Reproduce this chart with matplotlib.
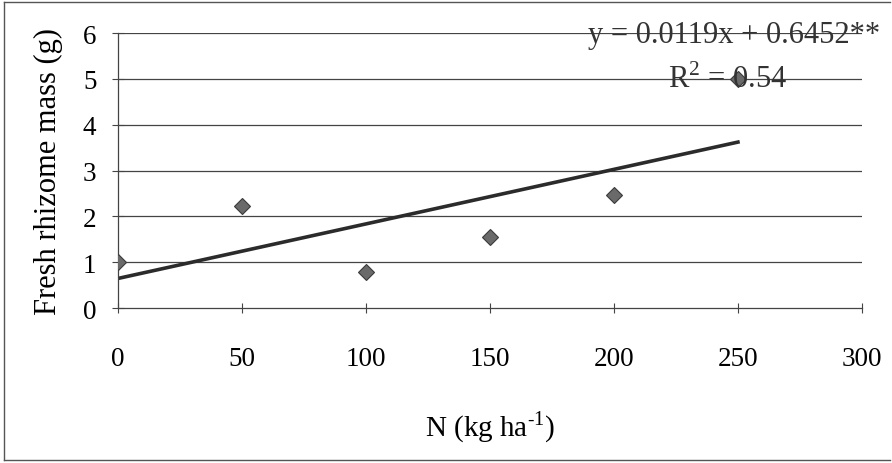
"""
Fresh rhizome mass vs N rate, with linear trendline
"""

import numpy as np
import matplotlib.pyplot as plt
from matplotlib.lines import Line2D

# Data
n_rate = [0, 50, 100, 150, 200, 250]
rhizome_mass = [1.0, 2.22, 0.78, 1.54, 2.46, 5.0]

# Trendline as reported on the chart
slope = 0.0119
intercept = 0.6452
r_squared = 0.54

x_ticks = [0, 50, 100, 150, 200, 250, 300]
y_ticks = [0, 1, 2, 3, 4, 5, 6]

plt.rcParams['font.family'] = ['Liberation Serif', 'DejaVu Serif']

fig = plt.figure(figsize=(8.92, 4.64), dpi=100)
ax = fig.add_axes([0.1323, 0.334, 0.834, 0.5927])

# Horizontal grid lines
for yv in y_ticks[1:]:
    ax.axhline(yv, color='#444444', linewidth=0.9, zorder=1)

# Trendline over the data range
line_x = np.array([n_rate[0], n_rate[-1]])
ax.plot(line_x, slope * line_x + intercept, color='#2b2b2b', linewidth=2.6, zorder=2)

# Points
ax.plot(n_rate, rhizome_mass, linestyle='none', marker='D', markersize=8,
        markerfacecolor='#6a6a6a', markeredgecolor='#3a3a3a', markeredgewidth=0.8, zorder=3)

ax.set_xlim(0, 300)
ax.set_ylim(0, 6)
ax.set_xticks(x_ticks)
ax.set_yticks(y_ticks)
ax.tick_params(axis='x', direction='inout', length=7, width=0.8, color='#444444',
               labelsize=19.5, pad=24)
ax.tick_params(axis='y', direction='inout', length=9, width=0.8, color='#444444',
               labelsize=19.5, pad=11)

for side in ['top', 'right']:
    ax.spines[side].set_visible(False)
ax.spines['left'].set_color('#444444')
ax.spines['bottom'].set_color('#444444')
ax.spines['left'].set_linewidth(0.9)
ax.spines['bottom'].set_linewidth(0.9)

ax.set_xlabel('N (kg ha$^{\\mathregular{\u2011 1}}$)', fontsize=21, labelpad=27)
ax.set_ylabel('Fresh rhizome mass (g)', fontsize=22, labelpad=14)

# Equation text
ax.text(1.024, 0.996, f'y = {slope}x + {intercept}**', transform=ax.transAxes,
        ha='right', va='center', fontsize=22, color='#333333')
ax.text(0.739, 0.833, f'R$^{{\\mathregular{{2}}}}$ = {r_squared}', transform=ax.transAxes,
        ha='left', va='center', fontsize=22, color='#333333')

# Frame around the chart (left, top, bottom visible in the scan)
frame_kw = dict(transform=fig.transFigure, color='#555555', linewidth=1.0)
fig.add_artist(Line2D([0.004, 0.004], [0.006, 0.994], **frame_kw))
fig.add_artist(Line2D([0.004, 0.998], [0.994, 0.994], **frame_kw))
fig.add_artist(Line2D([0.004, 0.998], [0.006, 0.006], **frame_kw))

plt.savefig('out.png', dpi=100)
plt.close()
